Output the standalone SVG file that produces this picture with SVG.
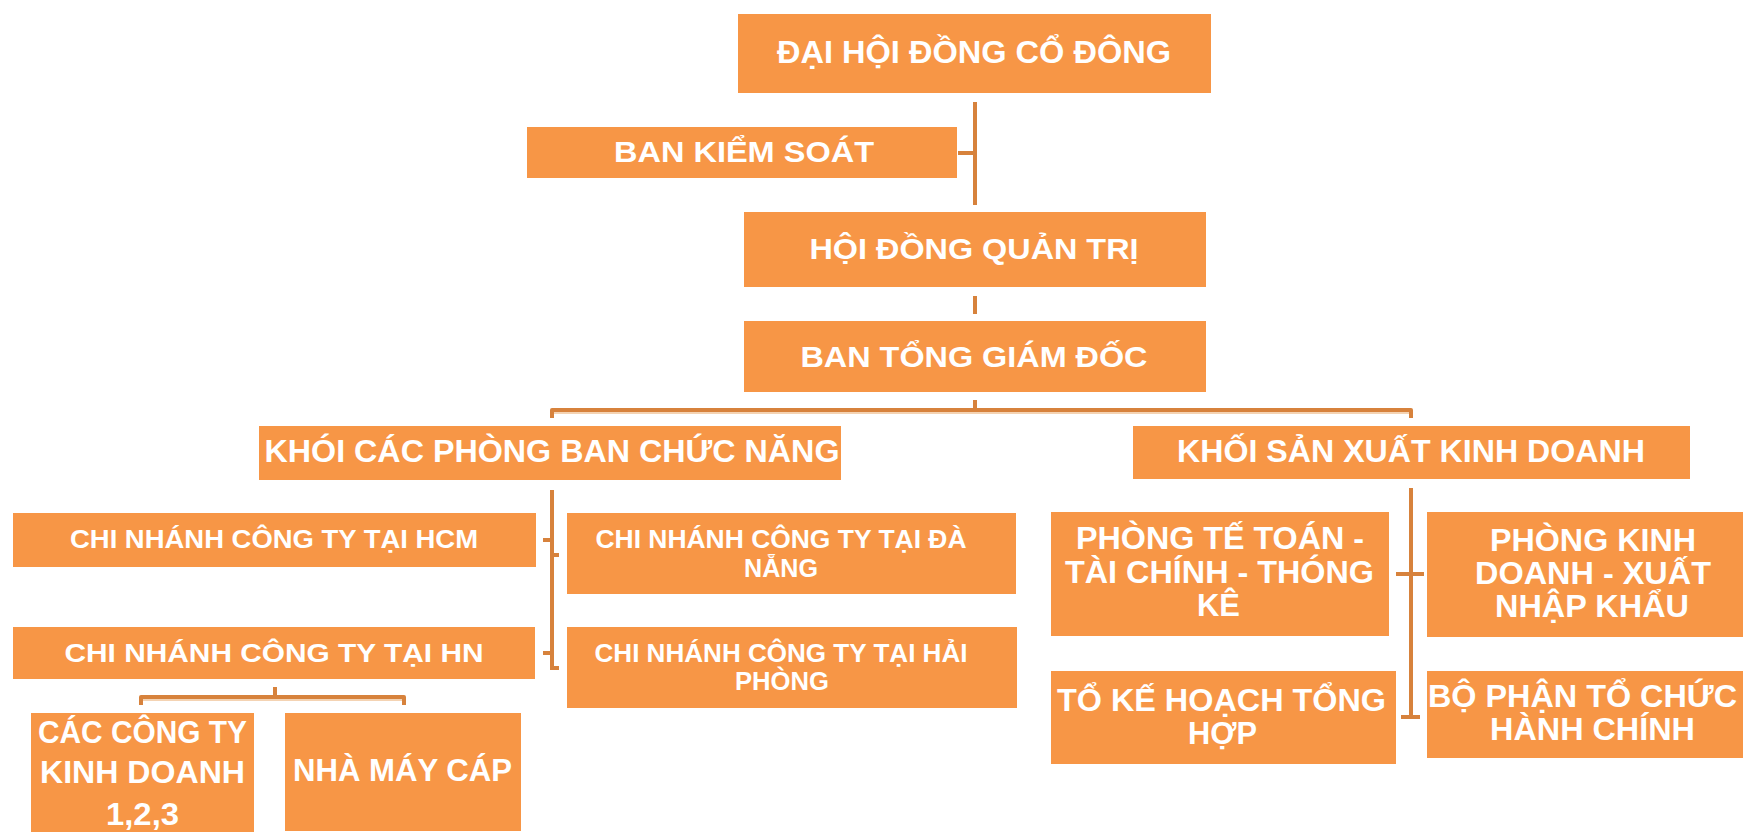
<svg xmlns="http://www.w3.org/2000/svg" width="1743" height="832" viewBox="0 0 1743 832">
<style>
.box{fill:#F79646}
.t{fill:#FFFFFF;font-family:"Liberation Sans",Arial,sans-serif;font-weight:bold;text-anchor:middle}
.c{fill:none;stroke:#D7823C;stroke-width:4;stroke-linecap:butt;stroke-linejoin:round}
.ch{fill:none;stroke:#F0C49A;stroke-width:1.5}
</style>
<rect width="1743" height="832" fill="#FFFFFF"/>
<g id="connectors">
<path class="c" d="M975,102 V205"/>
<path class="c" d="M958,153 H975"/>
<path class="c" d="M975,296 V314"/>
<path class="c" d="M975,400 V410"/>
<path class="c" d="M552,418 V410 H1411 V418"/>
<path class="ch" d="M554,413 H1409"/>
<path class="c" d="M552,490 V670"/>
<path class="c" d="M543,540 H552 M552,555 H559 M543,653 H552 M552,668 H559"/>
<path class="c" d="M275,687 V697"/>
<path class="c" d="M141,705 V697 H404 V705"/>
<path class="ch" d="M143,700 H402"/>
<path class="c" d="M1411,488 V718"/>
<path class="c" d="M1396,574 H1424 M1401,717 H1420"/>
</g>
<g id="n-daihoi"><rect class="box" x="738" y="14" width="473" height="79"/><text class="t" x="974" y="63" font-size="32" textLength="394" lengthAdjust="spacingAndGlyphs">ĐẠI HỘI ĐỒNG CỔ ĐÔNG</text></g>
<g id="n-bks"><rect class="box" x="527" y="127" width="430" height="51"/><text class="t" x="744" y="162" font-size="30" textLength="260" lengthAdjust="spacingAndGlyphs">BAN KIỂM SOÁT</text></g>
<g id="n-hdqt"><rect class="box" x="744" y="212" width="462" height="75"/><text class="t" x="974" y="259" font-size="30" textLength="329" lengthAdjust="spacingAndGlyphs">HỘI ĐỒNG QUẢN TRỊ</text></g>
<g id="n-btgd"><rect class="box" x="744" y="321" width="462" height="71"/><text class="t" x="974" y="367" font-size="30" textLength="347" lengthAdjust="spacingAndGlyphs">BAN TỔNG GIÁM ĐỐC</text></g>
<g id="n-khoi-cn"><rect class="box" x="259" y="426" width="582" height="54"/><text class="t" x="552" y="462" font-size="31" textLength="575" lengthAdjust="spacingAndGlyphs">KHÓI CÁC PHÒNG BAN CHỨC NĂNG</text></g>
<g id="n-khoi-sx"><rect class="box" x="1133" y="426" width="557" height="53"/><text class="t" x="1411" y="462" font-size="31" textLength="468" lengthAdjust="spacingAndGlyphs">KHỐI SẢN XUẤT KINH DOANH</text></g>
<g id="n-hcm"><rect class="box" x="13" y="513" width="523" height="54"/><text class="t" x="274" y="548" font-size="26" textLength="408" lengthAdjust="spacingAndGlyphs">CHI NHÁNH CÔNG TY TẠI HCM</text></g>
<g id="n-hn"><rect class="box" x="13" y="627" width="522" height="52"/><text class="t" x="274" y="662" font-size="26" textLength="419" lengthAdjust="spacingAndGlyphs">CHI NHÁNH CÔNG TY TẠI HN</text></g>
<g id="n-danang"><rect class="box" x="567" y="513" width="449" height="81"/><text class="t" x="781" y="548" font-size="26" textLength="371" lengthAdjust="spacingAndGlyphs">CHI NHÁNH CÔNG TY TẠI ĐÀ</text><text class="t" x="781" y="577" font-size="26" textLength="74" lengthAdjust="spacingAndGlyphs">NẴNG</text></g>
<g id="n-haiphong"><rect class="box" x="567" y="627" width="450" height="81"/><text class="t" x="781" y="662" font-size="26" textLength="373" lengthAdjust="spacingAndGlyphs">CHI NHÁNH CÔNG TY TẠI HẢI</text><text class="t" x="782" y="690" font-size="26" textLength="94" lengthAdjust="spacingAndGlyphs">PHÒNG</text></g>
<g id="n-ctkd"><rect class="box" x="31" y="713" width="223" height="119"/><text class="t" x="142.5" y="743" font-size="32" textLength="209" lengthAdjust="spacingAndGlyphs">CÁC CÔNG TY</text><text class="t" x="142.5" y="783" font-size="32" textLength="205" lengthAdjust="spacingAndGlyphs">KINH DOANH</text><text class="t" x="142.5" y="825" font-size="32" textLength="73" lengthAdjust="spacingAndGlyphs">1,2,3</text></g>
<g id="n-nmc"><rect class="box" x="285" y="713" width="236" height="118"/><text class="t" x="402.5" y="781" font-size="32" textLength="219" lengthAdjust="spacingAndGlyphs">NHÀ MÁY CÁP</text></g>
<g id="n-ketoan"><rect class="box" x="1051" y="512" width="338" height="124"/><text class="t" x="1220" y="549" font-size="31" textLength="288" lengthAdjust="spacingAndGlyphs">PHÒNG TẾ TOÁN -</text><text class="t" x="1219.5" y="583" font-size="31" textLength="309" lengthAdjust="spacingAndGlyphs">TÀI CHÍNH - THÓNG</text><text class="t" x="1218.5" y="616" font-size="31" textLength="43" lengthAdjust="spacingAndGlyphs">KÊ</text></g>
<g id="n-kinhdoanh"><rect class="box" x="1427" y="512" width="316" height="125"/><text class="t" x="1593" y="551" font-size="31" textLength="206" lengthAdjust="spacingAndGlyphs">PHÒNG KINH</text><text class="t" x="1593" y="584" font-size="31" textLength="236" lengthAdjust="spacingAndGlyphs">DOANH - XUẤT</text><text class="t" x="1592" y="617" font-size="31" textLength="194" lengthAdjust="spacingAndGlyphs">NHẬP KHẨU</text></g>
<g id="n-kehoach"><rect class="box" x="1051" y="671" width="345" height="93"/><text class="t" x="1221.5" y="711" font-size="31" textLength="329" lengthAdjust="spacingAndGlyphs">TỔ KẾ HOẠCH TỔNG</text><text class="t" x="1222.5" y="744" font-size="31" textLength="69" lengthAdjust="spacingAndGlyphs">HỢP</text></g>
<g id="n-hanhchinh"><rect class="box" x="1427" y="671" width="316" height="87"/><text class="t" x="1582.5" y="707" font-size="31" textLength="309" lengthAdjust="spacingAndGlyphs">BỘ PHẬN TỔ CHỨC</text><text class="t" x="1592.5" y="740" font-size="31" textLength="205" lengthAdjust="spacingAndGlyphs">HÀNH CHÍNH</text></g>
</svg>
